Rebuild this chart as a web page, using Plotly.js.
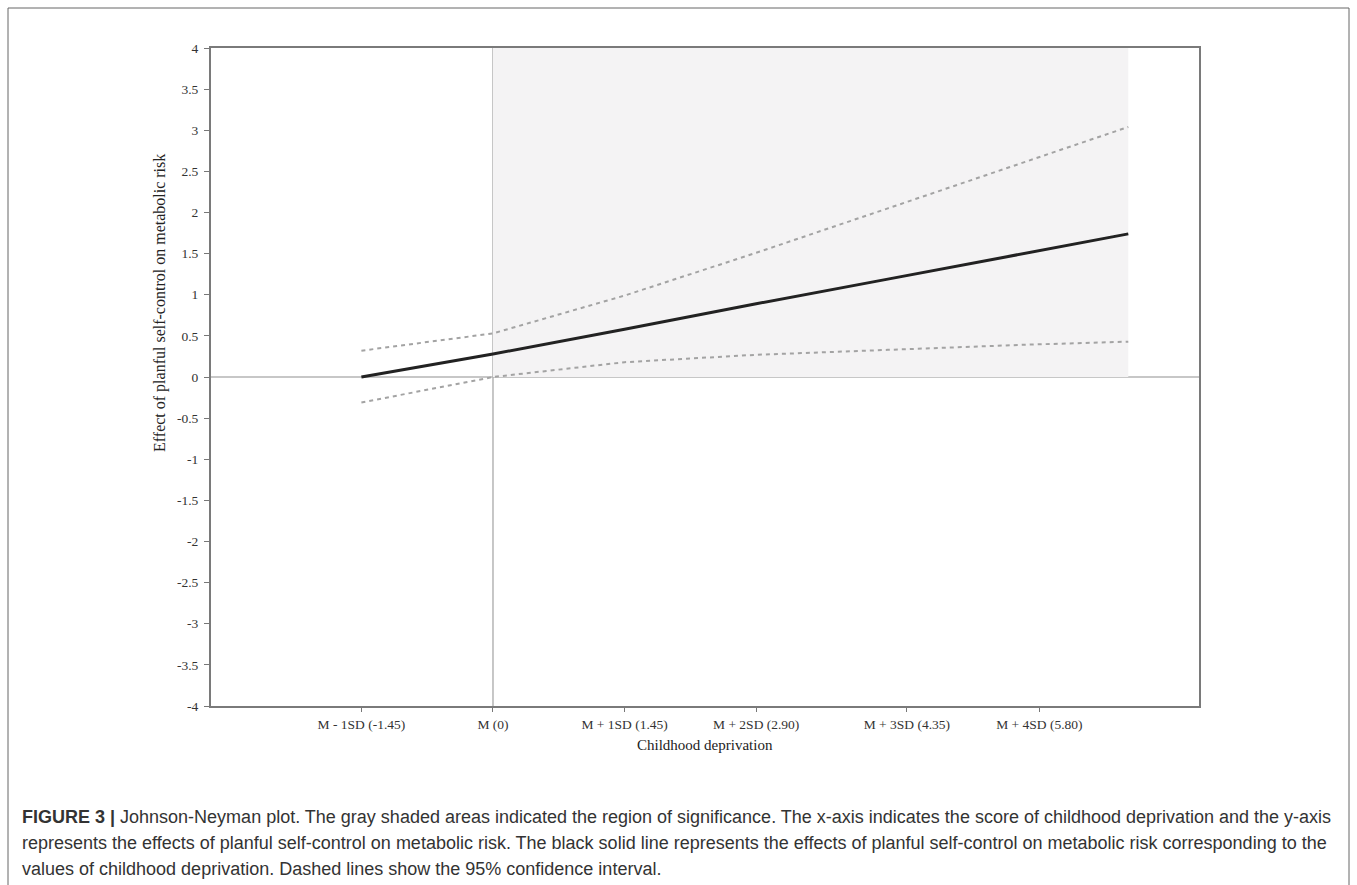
<!DOCTYPE html>
<html>
<head>
<meta charset="utf-8">
<script src="https://cdn.plot.ly/plotly-3.0.1.min.js"></script>
<style>
  html, body { margin: 0; padding: 0; background: #fff; }
  #chart { width: 1357px; height: 885px; }
</style>
</head>
<body>
<div id="chart"></div>
<script>
// ---- data ----
const deprivation = [-1.45, 0, 1.45, 2.90, 4.35, 5.80, 7.0];
const effect      = [0.00, 0.28, 0.58, 0.89, 1.19, 1.49, 1.74];
const ciUpper     = [0.32, 0.53, 0.99, 1.51, 2.05, 2.59, 3.04];
const ciLower     = [-0.31, 0.00, 0.18, 0.27, 0.33, 0.39, 0.43];
const jnPoint = 0; // start of region of significance
const xTickLabels = ["M - 1SD (-1.45)", "M (0)", "M + 1SD (1.45)", "M + 2SD (2.90)", "M + 3SD (4.35)", "M + 4SD (5.80)"];
const yTickValues = [4, 3.5, 3, 2.5, 2, 1.5, 1, 0.5, 0, -0.5, -1, -1.5, -2, -2.5, -3, -3.5, -4];
const yTickLabels = yTickValues.map(v => String(v));

const captionLines = [
  "<b>FIGURE 3 |</b> Johnson-Neyman plot. The gray shaded areas indicated the region of significance. The x-axis indicates the score of childhood deprivation and the y-axis",
  "represents the effects of planful self-control on metabolic risk. The black solid line represents the effects of planful self-control on metabolic risk corresponding to the",
  "values of childhood deprivation. Dashed lines show the 95% confidence interval."
];

// ---- layout geometry (pixels) ----
const W = 1357, H = 885;
const L = 211, R = 1199, T = 48, B = 706;
const pw = R - L, ph = B - T;
const px = p => (p - L) / pw;   // pixel -> paper x
const py = p => (B - p) / ph;   // pixel -> paper y
// tick positions as drawn in the reference
const xTickPositions = [-1.45, 0, 1.45, 2.90, 4.56, 6.02];

const serif = "Liberation Serif, Times New Roman, serif";

const traces = [
  { x: deprivation, y: ciUpper, mode: "lines", line: { color: "#a3a3a3", width: 2, dash: "4px,4px" }, hoverinfo: "skip" },
  { x: deprivation, y: ciLower, mode: "lines", line: { color: "#a3a3a3", width: 2, dash: "4px,4px" }, hoverinfo: "skip" },
  { x: deprivation, y: effect, mode: "lines", line: { color: "#222222", width: 3 } }
];

const annotations = [
  { text: "Effect of planful self-control on metabolic risk", xref: "paper", yref: "paper",
    x: px(160), y: py(303), textangle: -90, showarrow: false, xanchor: "center", yanchor: "middle",
    font: { family: serif, size: 16, color: "#222" } },
  { text: "Childhood deprivation", xref: "paper", yref: "paper",
    x: 0.5, y: py(745), showarrow: false, xanchor: "center", yanchor: "middle",
    font: { family: serif, size: 15, color: "#222" } }
];
captionLines.forEach((t, i) => {
  annotations.push({ text: t, xref: "paper", yref: "paper", x: px(20), y: py(817 + 26 * i),
    showarrow: false, xanchor: "left", yanchor: "middle", align: "left",
    font: { family: "Liberation Sans, Arial, sans-serif", size: 18, color: "#333" } });
});

const layout = {
  width: W, height: H,
  margin: { l: L, r: W - R, t: T, b: H - B, pad: 0 },
  paper_bgcolor: "#ffffff", plot_bgcolor: "#ffffff",
  showlegend: false,
  xaxis: {
    range: [-3.107, 7.779],
    tickmode: "array", tickvals: xTickPositions, ticktext: xTickLabels,
    ticks: "outside", ticklen: 4, tickcolor: "#777", tickwidth: 1,
    showgrid: false, zeroline: false,
    showline: true, linecolor: "#7a7a7a", linewidth: 2, mirror: true,
    tickfont: { family: serif, size: 13.5, color: "#333" },
    ticklabelstandoff: 1
  },
  yaxis: {
    range: [-4, 4],
    tickmode: "array", tickvals: yTickValues, ticktext: yTickLabels,
    ticks: "outside", ticklen: 5, tickcolor: "#777", tickwidth: 1,
    showgrid: false, zeroline: false,
    showline: true, linecolor: "#7a7a7a", linewidth: 2, mirror: true,
    tickfont: { family: serif, size: 13.5, color: "#333" },
    ticklabelstandoff: 3
  },
  shapes: [
    // region of significance
    { type: "rect", xref: "x", yref: "y", x0: jnPoint, x1: deprivation[deprivation.length - 1], y0: 0, y1: 4,
      fillcolor: "#f4f3f4", line: { width: 0 }, layer: "below" },
    // zero reference lines
    { type: "line", xref: "paper", yref: "y", x0: 0, x1: 1, y0: 0, y1: 0, line: { color: "#b5b5b5", width: 1.5 }, layer: "below" },
    { type: "line", xref: "x", yref: "paper", x0: 0, x1: 0, y0: 0, y1: 1, line: { color: "#b5b5b5", width: 1.5 }, layer: "below" },
    // figure frame
    { type: "rect", xref: "paper", yref: "paper", x0: px(8), x1: px(1349), y0: py(890), y1: py(8),
      line: { color: "#666", width: 1 }, fillcolor: "rgba(0,0,0,0)" }
  ],
  annotations: annotations
};

Plotly.newPlot("chart", traces, layout, { displayModeBar: false, staticPlot: true });
</script>
</body>
</html>
